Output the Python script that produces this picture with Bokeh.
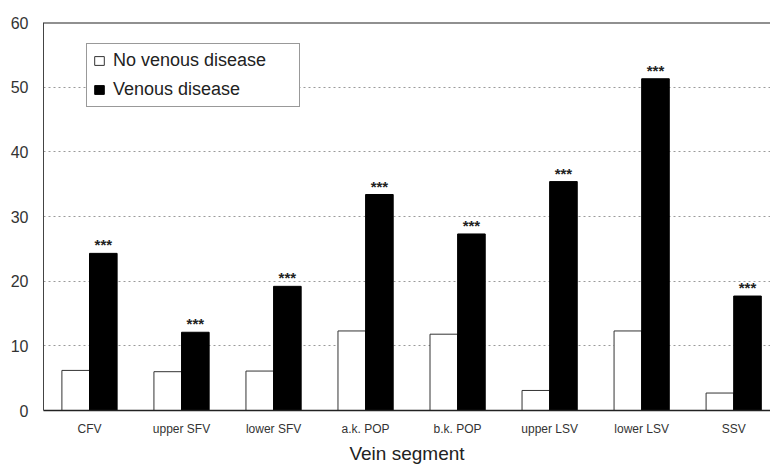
import numpy as np
from bokeh.plotting import figure
from bokeh.models import (ColumnDataSource, Range1d, FixedTicker, Span, Legend, LegendItem)
from bokeh.core.properties import value
from bokeh.embed import file_html
from bokeh.resources import INLINE

# ---- data ----
categories = ["CFV", "upper SFV", "lower SFV", "a.k. POP", "b.k. POP",
              "upper LSV", "lower LSV", "SSV"]
no_venous_disease = [6.2, 6.0, 6.1, 12.3, 11.8, 3.1, 12.3, 2.7]
venous_disease = [24.3, 12.1, 19.2, 33.4, 27.3, 35.4, 51.3, 17.7]
significance = ["***"] * 8
y_ticks = [0, 10, 20, 30, 40, 50, 60]

FONT = "Liberation Sans"

centers = np.arange(len(categories)) + 0.5
src = ColumnDataSource(dict(
    xc=centers,
    xw=centers - 0.15,
    xb=centers + 0.15,
    nv=no_venous_disease,
    vd=venous_disease,
    sig=significance,
))

p = figure(width=770, height=466, output_backend="svg", toolbar_location=None,
           x_range=Range1d(0, 7.9), y_range=Range1d(0, 60),
           min_border_left=43, min_border_right=0, min_border_top=22,
           min_border_bottom=56)
p.outline_line_color = None
p.background_fill_color = "white"
p.border_fill_color = "white"

r_white = p.vbar(x="xw", top="nv", width=0.30, source=src, fill_color="white",
                 line_color="#333333", line_width=1)
r_black = p.vbar(x="xb", top="vd", width=0.30, source=src, fill_color="black",
                 line_color="black", line_width=1)

p.text(x="xb", y="vd", text="sig", source=src, text_align="center",
       text_baseline="bottom", y_offset=0, text_font=value(FONT),
       text_font_size="15px", text_font_style="bold", text_color="#222222")

# top frame line
p.add_layout(Span(location=60, dimension="width", line_color="#222222",
                  line_width=2))

# axes
p.xaxis.ticker = FixedTicker(ticks=list(centers))
p.xaxis.major_label_overrides = {float(c): lab for c, lab in zip(centers, categories)}
p.xaxis.axis_label = "Vein segment"
p.xaxis.axis_label_text_font = FONT
p.xaxis.axis_label_text_font_style = "normal"
p.xaxis.axis_label_text_font_size = "19px"
p.xaxis.axis_label_text_color = "#222222"
p.xaxis.axis_label_standoff = 4
p.xaxis.major_label_text_font = FONT
p.xaxis.major_label_text_font_size = "12px"
p.xaxis.major_label_text_color = "#333333"
p.xaxis.major_label_standoff = 5
p.xaxis.major_tick_line_color = None
p.xaxis.minor_tick_line_color = None
p.xaxis.axis_line_color = "#222222"
p.xaxis.axis_line_width = 1.5

p.yaxis.ticker = FixedTicker(ticks=y_ticks)
p.yaxis.major_label_text_font = FONT
p.yaxis.major_label_text_font_size = "16px"
p.yaxis.major_label_text_color = "#333333"
p.yaxis.major_label_standoff = 9
p.yaxis.major_tick_line_color = None
p.yaxis.minor_tick_line_color = None
p.yaxis.axis_line_color = "#444444"
p.yaxis.axis_line_width = 1

p.xgrid.grid_line_color = None
p.ygrid.grid_line_color = "#9a9a9a"
p.ygrid.grid_line_dash = "2 3"
p.ygrid.grid_line_width = 1.2
p.ygrid.ticker = FixedTicker(ticks=[10, 20, 30, 40, 50])

legend = Legend(items=[LegendItem(label="No venous disease", renderers=[r_white]),
                       LegendItem(label="Venous disease", renderers=[r_black])],
                location=(43, 303))
legend.label_text_font = FONT
legend.label_text_font_size = "18px"
legend.label_text_color = "#222222"
legend.glyph_width = 12
legend.glyph_height = 11
legend.label_height = 20
legend.label_width = 180
legend.label_standoff = 8
legend.spacing = 8
legend.padding = 6
legend.margin = 0
legend.border_line_color = "#333333"
legend.border_line_width = 1.5
legend.background_fill_color = "white"
legend.background_fill_alpha = 1
p.add_layout(legend, "center")

open("out.html", "w").write(file_html(p, INLINE))
